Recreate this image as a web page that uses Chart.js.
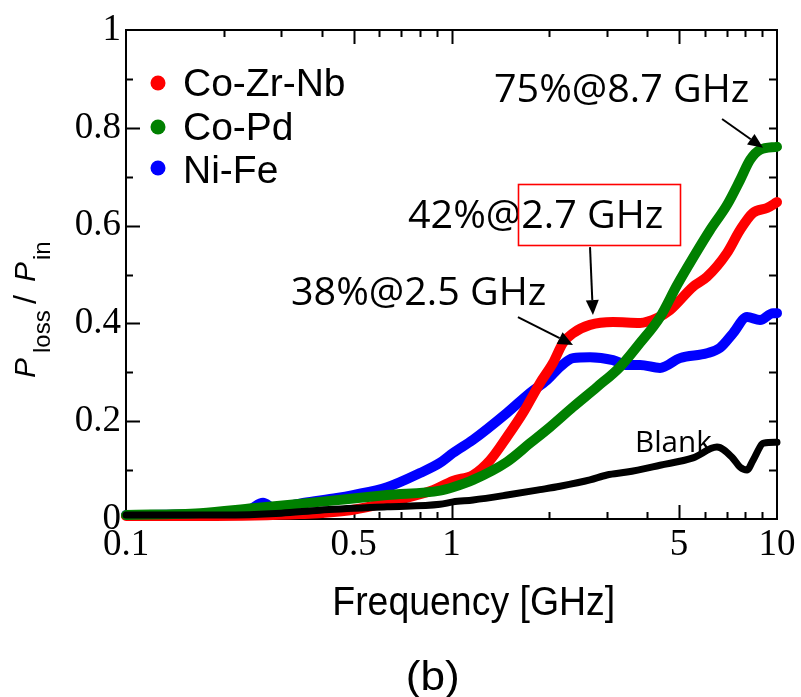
<!DOCTYPE html>
<html><head><meta charset="utf-8">
<script src="https://cdn.jsdelivr.net/npm/chart.js@4.4.0/dist/chart.umd.min.js"></script>
<style>html,body{margin:0;padding:0;background:#fff;}#wrap{width:801px;height:697px;}</style>
</head><body><div id="wrap"><canvas id="c" width="801" height="697"></canvas></div>
<script>
// ---- data ----
const seriesNames = ["Co-Zr-Nb", "Co-Pd", "Ni-Fe", "Blank"];
const seriesColors = ["#ff0000", "#008000", "#0000ff", "#000000"];

const freqRed = [0.1, 0.169, 0.342, 0.488, 0.695, 0.877, 1.01, 1.165, 1.313, 1.481, 1.658, 1.87, 2.05, 2.2, 2.362, 2.664, 3.135, 3.795, 4.28, 4.69, 5.52, 6.09, 7.02, 7.7, 8.44, 9.32, 10];
const lossRed = [0.006, 0.006, 0.01, 0.018, 0.04, 0.059, 0.078, 0.09, 0.12, 0.168, 0.217, 0.278, 0.319, 0.36, 0.38, 0.397, 0.403, 0.401, 0.411, 0.427, 0.475, 0.495, 0.544, 0.591, 0.626, 0.636, 0.648];

const freqGreen = [0.1, 0.169, 0.245, 0.394, 0.634, 0.922, 1.01, 1.165, 1.481, 1.743, 2.007, 2.362, 2.8, 3.294, 3.795, 4.372, 4.929, 5.52, 6.23, 7.02, 7.7, 8.26, 8.87, 10];
const lossGreen = [0.008, 0.012, 0.022, 0.035, 0.049, 0.058, 0.065, 0.08, 0.117, 0.155, 0.188, 0.229, 0.27, 0.311, 0.36, 0.413, 0.478, 0.534, 0.591, 0.642, 0.693, 0.734, 0.755, 0.761];

const freqBlue = [0.1, 0.169, 0.24, 0.2636, 0.285, 0.35, 0.4448, 0.4982, 0.634, 0.8, 0.922, 1.01, 1.165, 1.481, 1.743, 1.966, 2.154, 2.362, 2.664, 3.135, 3.461, 3.795, 4.372, 5.035, 6.09, 6.68, 7.33, 8.09, 8.87, 9.72, 10];
const lossBlue = [0.008, 0.01, 0.02, 0.033, 0.022, 0.033, 0.043, 0.049, 0.065, 0.094, 0.115, 0.135, 0.162, 0.217, 0.258, 0.284, 0.311, 0.329, 0.331, 0.325, 0.315, 0.315, 0.309, 0.329, 0.339, 0.35, 0.38, 0.413, 0.407, 0.421, 0.421];

const freqBlank = [0.1, 0.2, 0.3, 0.394, 0.634, 0.922, 1.01, 1.165, 1.481, 1.87, 2.154, 2.664, 3.004, 3.461, 4.372, 5.52, 6.54, 7.3, 7.7, 8.09, 8.44, 9.1, 10];
const lossBlank = [0.008, 0.008, 0.012, 0.018, 0.025, 0.03, 0.035, 0.039, 0.049, 0.06, 0.067, 0.08, 0.09, 0.096, 0.11, 0.125, 0.147, 0.125, 0.106, 0.1, 0.12, 0.155, 0.157];

const xTickValues = [0.1, 0.5, 1, 5, 10];
const xTickLabels = ["0.1", "0.5", "1", "5", "10"];
const xMinorTicks = [0.2, 0.3, 0.4, 0.6, 0.7, 0.8, 0.9, 2, 3, 4, 6, 7, 8, 9];
const xMajorInner = [0.5, 1, 5];
const yTickValues = [0, 0.2, 0.4, 0.6, 0.8, 1];
const yTickLabels = ["0", "0.2", "0.4", "0.6", "0.8", "1"];
const yMinorTicks = [0.1, 0.3, 0.5, 0.7, 0.9];

const annotationTexts = ["75%@8.7 GHz", "42%@2.7 GHz", "38%@2.5 GHz", "Blank"];
// arrows: [freq, value]
const arrowTail = [[6.78, 0.818], [2.664, 0.556], [1.60, 0.413]];
const arrowTip = [[9.06, 0.759], [2.72, 0.417], [2.362, 0.356]];

function pts(f, v) { return f.map((x, i) => ({ x: x, y: v[i] })); }

const datasets = [
  { label: seriesNames[0], data: pts(freqRed, lossRed), borderColor: seriesColors[0], order: 2, borderWidth: 10 },
  { label: seriesNames[1], data: pts(freqGreen, lossGreen), borderColor: seriesColors[1], order: 1, borderWidth: 10 },
  { label: seriesNames[2], data: pts(freqBlue, lossBlue), borderColor: seriesColors[2], order: 3, borderWidth: 10 },
  { label: seriesNames[3], data: pts(freqBlank, lossBlank), borderColor: seriesColors[3], order: 0, borderWidth: 7 }
].map(d => Object.assign(d, {
  backgroundColor: d.borderColor, pointRadius: 0, borderCapStyle: 'round', borderJoinStyle: 'round',
  cubicInterpolationMode: 'monotone', clip: false, fill: false
}));

function fitText(ctx, text, font, x, baseline, width) {
  ctx.font = font;
  const m = ctx.measureText(text);
  const ink = m.actualBoundingBoxLeft + m.actualBoundingBoxRight;
  const sx = width / ink;
  ctx.save();
  ctx.translate(x, baseline);
  ctx.scale(sx, 1);
  ctx.textAlign = 'left';
  ctx.textBaseline = 'alphabetic';
  ctx.fillText(text, m.actualBoundingBoxLeft, 0);
  ctx.restore();
}

function arrow(ctx, x1, y1, x2, y2) {
  const a = Math.atan2(y2 - y1, x2 - x1);
  const L = 15, W = 6.5;
  ctx.beginPath();
  ctx.moveTo(x1, y1);
  ctx.lineTo(x2 - L * Math.cos(a), y2 - L * Math.sin(a));
  ctx.lineWidth = 2; ctx.strokeStyle = '#000'; ctx.stroke();
  ctx.beginPath();
  ctx.moveTo(x2, y2);
  ctx.lineTo(x2 - L * Math.cos(a) + W * Math.sin(a), y2 - L * Math.sin(a) - W * Math.cos(a));
  ctx.lineTo(x2 - L * Math.cos(a) - W * Math.sin(a), y2 - L * Math.sin(a) + W * Math.cos(a));
  ctx.closePath(); ctx.fillStyle = '#000'; ctx.fill();
}

const decor = {
  id: 'decor',
  beforeDatasetsDraw(chart) {
    const ctx = chart.ctx, a = chart.chartArea, xs = chart.scales.x, ys = chart.scales.y;
    ctx.save();
    ctx.strokeStyle = '#000'; ctx.lineWidth = 2;
    ctx.strokeRect(a.left, a.top, a.right - a.left, a.bottom - a.top);
    ctx.beginPath();
    xMinorTicks.concat(xMajorInner).forEach(v => {
      const px = Math.round(xs.getPixelForValue(v)) + 0.5;
      const len = xMajorInner.includes(v) ? 14 : 7;
      ctx.moveTo(px, a.bottom); ctx.lineTo(px, a.bottom - len);
      ctx.moveTo(px, a.top); ctx.lineTo(px, a.top + len);
    });
    yMinorTicks.concat(yTickValues.slice(1, -1)).forEach(v => {
      const py = Math.round(ys.getPixelForValue(v)) + 0.5;
      const len = yTickValues.includes(v) ? 14 : 7;
      ctx.moveTo(a.left, py); ctx.lineTo(a.left + len, py);
      ctx.moveTo(a.right, py); ctx.lineTo(a.right - 8, py);
    });
    ctx.lineWidth = 2; ctx.stroke();
    ctx.restore();
  },
  afterDraw(chart) {
    const ctx = chart.ctx, xs = chart.scales.x, ys = chart.scales.y;
    ctx.save();
    ctx.fillStyle = '#000';
    // legend
    const legY = [83, 127, 168], legBase = [96, 140, 183];
    for (let i = 0; i < 3; i++) {
      ctx.beginPath(); ctx.arc(158, legY[i], 7.5, 0, Math.PI * 2);
      ctx.fillStyle = seriesColors[i]; ctx.fill();
      ctx.fillStyle = '#000';
      ctx.font = "39px 'Liberation Sans', Arial, sans-serif";
      ctx.textBaseline = 'alphabetic'; ctx.textAlign = 'left';
      ctx.fillText(seriesNames[i], 183, legBase[i]);
    }
    // annotations
    const ann = "'Open Sans', sans-serif";
    fitText(ctx, annotationTexts[0], "39px " + ann, 495, 102, 253);
    fitText(ctx, annotationTexts[1], "39px " + ann, 408, 228, 254);
    fitText(ctx, annotationTexts[2], "39px " + ann, 292, 305, 253);
    fitText(ctx, annotationTexts[3], "30px " + ann, 637, 452, 75);
    // red box
    ctx.strokeStyle = '#ff0000'; ctx.lineWidth = 1.6;
    ctx.strokeRect(518.5, 184.5, 162, 61);
    // arrows
    for (let i = 0; i < arrowTail.length; i++) {
      arrow(ctx, xs.getPixelForValue(arrowTail[i][0]), ys.getPixelForValue(arrowTail[i][1]),
        xs.getPixelForValue(arrowTip[i][0]), ys.getPixelForValue(arrowTip[i][1]));
    }
    // x title
    ctx.fillStyle = '#000';
    fitText(ctx, "Frequency [GHz]", "41px 'Liberation Sans', Arial, sans-serif", 335, 615, 278);
    // (b)
    fitText(ctx, "(b)", "41px 'Liberation Sans', Arial, sans-serif", 408, 690, 50);
    // y title (rotated)
    ctx.save();
    ctx.translate(35, 378);
    ctx.rotate(-Math.PI / 2);
    ctx.textBaseline = 'alphabetic'; ctx.textAlign = 'left';
    const big = "italic 30px 'Liberation Sans', Arial, sans-serif";
    const sub = "24px 'Liberation Sans', Arial, sans-serif";
    ctx.font = big; ctx.fillText("P", 0, 0);
    ctx.font = sub; ctx.fillText("loss", 25, 15);
    ctx.font = "32px 'Liberation Sans', Arial, sans-serif"; ctx.fillText("/", 74, 1);
    ctx.font = big; ctx.fillText("P", 96, 0);
    ctx.font = sub; ctx.fillText("in", 118, 15);
    ctx.restore();
    ctx.restore();
  }
};

new Chart(document.getElementById('c'), {
  type: 'line',
  data: { datasets: datasets },
  options: {
    responsive: false, animation: false, devicePixelRatio: 1,
    layout: { padding: { left: 0, top: 30, right: 24, bottom: 0 } },
    plugins: { legend: { display: false }, tooltip: { enabled: false } },
    scales: {
      x: {
        type: 'logarithmic', position: 'bottom', min: 0.1, max: 10,
        grid: { display: false, drawTicks: false }, border: { display: false },
        afterBuildTicks: s => { s.ticks = xTickValues.map(v => ({ value: v })); },
        afterFit: s => { s.height = 178; },
        ticks: {
          autoSkip: false, maxRotation: 0, minRotation: 0, padding: 4, color: '#000',
          font: { family: "'Liberation Serif', 'Times New Roman', serif", size: 37 },
          callback: (v) => { const i = xTickValues.indexOf(v); return i >= 0 ? xTickLabels[i] : ''; }
        }
      },
      y: {
        type: 'linear', min: 0, max: 1,
        grid: { display: false, drawTicks: false }, border: { display: false },
        afterBuildTicks: s => { s.ticks = yTickValues.map(v => ({ value: v })); },
        afterFit: s => { s.width = 126; },
        ticks: {
          padding: 5, color: '#000',
          font: { family: "'Liberation Serif', 'Times New Roman', serif", size: 37 },
          callback: (v) => { const i = yTickValues.findIndex(t => Math.abs(t - v) < 1e-9); return i >= 0 ? yTickLabels[i] : ''; }
        }
      }
    }
  },
  plugins: [decor]
});
</script>
</body></html>
